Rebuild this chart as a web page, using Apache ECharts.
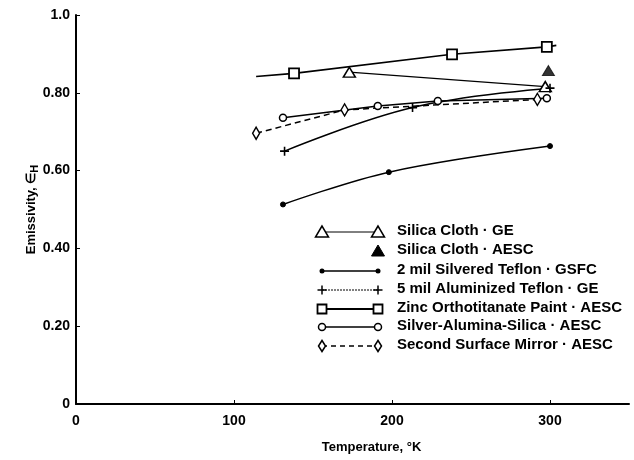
<!DOCTYPE html>
<html><head><meta charset="utf-8">
<script src="https://cdn.jsdelivr.net/npm/echarts@6/dist/echarts.min.js"></script>
<style>html,body{margin:0;padding:0;background:#fff}#c{width:634px;height:460px}</style>
</head><body><div id="c"></div>
<script>
// ---- data ----
var xTicks = [0, 100, 200, 300];
var yTicks = [0, 0.2, 0.4, 0.6, 0.8, 1.0];
var silicaClothGE = [[173, 0.853], [297, 0.816]];
var silicaClothAESC = [[299, 0.857]];
var silveredTeflon = [[131, 0.513], [198, 0.596], [300, 0.663]];
var aluminizedTeflon = [[132, 0.650], [213, 0.762], [300, 0.812]];
var zincPaint = [[138, 0.850], [238, 0.899], [298, 0.918]];
var zincLineEnds = [[114, 0.842], [304, 0.922]];
var silverAlumina = [[131, 0.736], [191, 0.766], [229, 0.779], [298, 0.786]];
var mirror = [[114, 0.696], [170, 0.756], [292, 0.783]];
var legendNames = [
  'Silica Cloth · GE',
  'Silica Cloth · AESC',
  '2 mil Silvered Teflon · GSFC',
  '5 mil Aluminized Teflon · GE',
  'Zinc Orthotitanate Paint · AESC',
  'Silver-Alumina-Silica · AESC',
  'Second Surface Mirror · AESC'
];

var FONT = '"Liberation Sans", Arial, Helvetica, sans-serif';
var PLUS = 'path://M0,5L10,5M5,0L5,10';
var hollow = {color: '#fff', borderColor: '#000', borderWidth: 1.5};
var filled = {color: '#000', borderColor: '#000', borderWidth: 1};

var zincData = [{value: zincLineEnds[0], symbol: 'none'}]
  .concat(zincPaint.map(function (p) { return {value: p}; }))
  .concat([{value: zincLineEnds[1], symbol: 'none'}]);

// ---- legend drawn with graphic elements ----
var graphics = [];
var rowY = [232, 251, 271, 290, 309, 327, 346];
var lx0 = 322, lx1 = 378, tx = 397;
function marker(kind, x, y) {
  var st = {fill: '#fff', stroke: '#000', lineWidth: 1.5};
  if (kind === 'tri') return {type: 'polygon', shape: {points: [[x, y - 6], [x - 6.5, y + 5], [x + 6.5, y + 5]]}, style: st, z: 10};
  if (kind === 'ftri') return {type: 'polygon', shape: {points: [[x, y - 6], [x - 6.5, y + 5], [x + 6.5, y + 5]]}, style: {fill: '#000', stroke: '#000', lineWidth: 1}, z: 10};
  if (kind === 'dot') return {type: 'circle', shape: {cx: x, cy: y, r: 2.5}, style: {fill: '#000'}, z: 10};
  if (kind === 'plus') return {type: 'group', z: 10, children: [
    {type: 'line', shape: {x1: x - 4.5, y1: y, x2: x + 4.5, y2: y}, style: {stroke: '#000', lineWidth: 1.5}},
    {type: 'line', shape: {x1: x, y1: y - 4.5, x2: x, y2: y + 4.5}, style: {stroke: '#000', lineWidth: 1.5}}]};
  if (kind === 'sq') return {type: 'rect', shape: {x: x - 4.5, y: y - 4.5, width: 9, height: 9}, style: {fill: '#fff', stroke: '#000', lineWidth: 1.8}, z: 10};
  if (kind === 'circ') return {type: 'circle', shape: {cx: x, cy: y, r: 3.5}, style: st, z: 10};
  if (kind === 'dia') return {type: 'polygon', shape: {points: [[x, y - 5.5], [x + 3.5, y], [x, y + 5.5], [x - 3.5, y]]}, style: st, z: 10};
}
var kinds = ['tri', 'ftri', 'dot', 'plus', 'sq', 'circ', 'dia'];
var lineW = [1, 0, 1.3, 1, 2, 1.5, 1.5];
var lineDash = [null, null, null, [2, 1], null, null, [5, 4]];
for (var i = 0; i < kinds.length; i++) {
  var y = rowY[i];
  if (lineW[i] > 0) {
    graphics.push({type: 'line', shape: {x1: lx0, y1: y, x2: lx1, y2: y},
      style: {stroke: '#000', lineWidth: lineW[i], lineDash: lineDash[i]}});
    graphics.push(marker(kinds[i], lx0, y));
  }
  graphics.push(marker(kinds[i], lx1, y));
  graphics.push({type: 'text', left: tx, top: y - 9,
    style: {text: legendNames[i], font: 'bold 15px ' + FONT, fill: '#000', textVerticalAlign: 'top'}});
}

var chart = echarts.init(document.getElementById('c'), null, {renderer: 'canvas'});
chart.setOption({
  animation: false,
  backgroundColor: '#fff',
  grid: {left: 76, right: 5, top: 15, bottom: 56, containLabel: false},
  xAxis: {
    type: 'value', min: 0, max: 350, interval: 100,
    name: 'Temperature, °K', nameLocation: 'middle', nameGap: 37, nameMoveOverlap: false,
    nameTextStyle: {fontFamily: FONT, fontWeight: 'bold', fontSize: 13, color: '#000', padding: [0, 0, 0, 38]},
    axisLine: {show: true, onZero: false, lineStyle: {color: '#000', width: 2}},
    axisTick: {show: true, inside: true, length: 4, customValues: xTicks, lineStyle: {color: '#000', width: 1}},
    axisLabel: {customValues: xTicks, margin: 10, fontFamily: FONT, fontWeight: 'bold', fontSize: 14, color: '#000'},
    splitLine: {show: false}
  },
  yAxis: {
    type: 'value', min: 0, max: 1, interval: 0.2,
    name: 'Emissivity, ∈{sub|H}', nameLocation: 'middle', nameGap: 36, nameMoveOverlap: false,
    nameTextStyle: {fontFamily: FONT, fontWeight: 'bold', fontSize: 13, color: '#000',
      rich: {sub: {fontFamily: FONT, fontWeight: 'bold', fontSize: 11, color: '#000', verticalAlign: 'bottom', padding: [6, 0, 0, 0]}}},
    axisLine: {show: true, onZero: false, lineStyle: {color: '#000', width: 2}},
    axisTick: {show: true, inside: true, length: 4, customValues: yTicks, lineStyle: {color: '#000', width: 1}},
    axisLabel: {customValues: yTicks, margin: 6, fontFamily: FONT, fontWeight: 'bold', fontSize: 14, color: '#000',
      formatter: function (v) { if (v === 0) return '0'; if (v === 1) return '1.0'; return v.toFixed(2); }},
    splitLine: {show: false}
  },
  graphic: graphics,
  series: [
    {name: legendNames[0], type: 'line', data: silicaClothGE, symbol: 'triangle', symbolSize: [12, 10],
      itemStyle: hollow, lineStyle: {color: '#000', width: 1.2}, z: 3},
    {name: legendNames[1], type: 'scatter', data: silicaClothAESC, symbol: 'triangle', symbolSize: [12, 10],
      itemStyle: filled, z: 4},
    {name: legendNames[2], type: 'line', data: silveredTeflon, smooth: 0.35, symbol: 'circle', symbolSize: 5,
      itemStyle: filled, lineStyle: {color: '#000', width: 1.5}},
    {name: legendNames[3], type: 'line', data: aluminizedTeflon, smooth: 0.4, symbol: PLUS, symbolSize: 9,
      itemStyle: {color: '#000', borderColor: '#000', borderWidth: 1.6}, lineStyle: {color: '#000', width: 1.5}},
    {name: legendNames[4], type: 'line', data: zincData, symbol: 'rect', symbolSize: 10,
      itemStyle: {color: '#fff', borderColor: '#000', borderWidth: 1.8}, lineStyle: {color: '#000', width: 1.6}, z: 3},
    {name: legendNames[5], type: 'line', data: silverAlumina, symbol: 'circle', symbolSize: 7,
      itemStyle: hollow, lineStyle: {color: '#000', width: 1.5}},
    {name: legendNames[6], type: 'line', data: mirror, symbol: 'diamond', symbolSize: [7, 12],
      itemStyle: hollow, lineStyle: {color: '#000', width: 1.5, type: [6, 4]}}
  ]
});
</script></body></html>
